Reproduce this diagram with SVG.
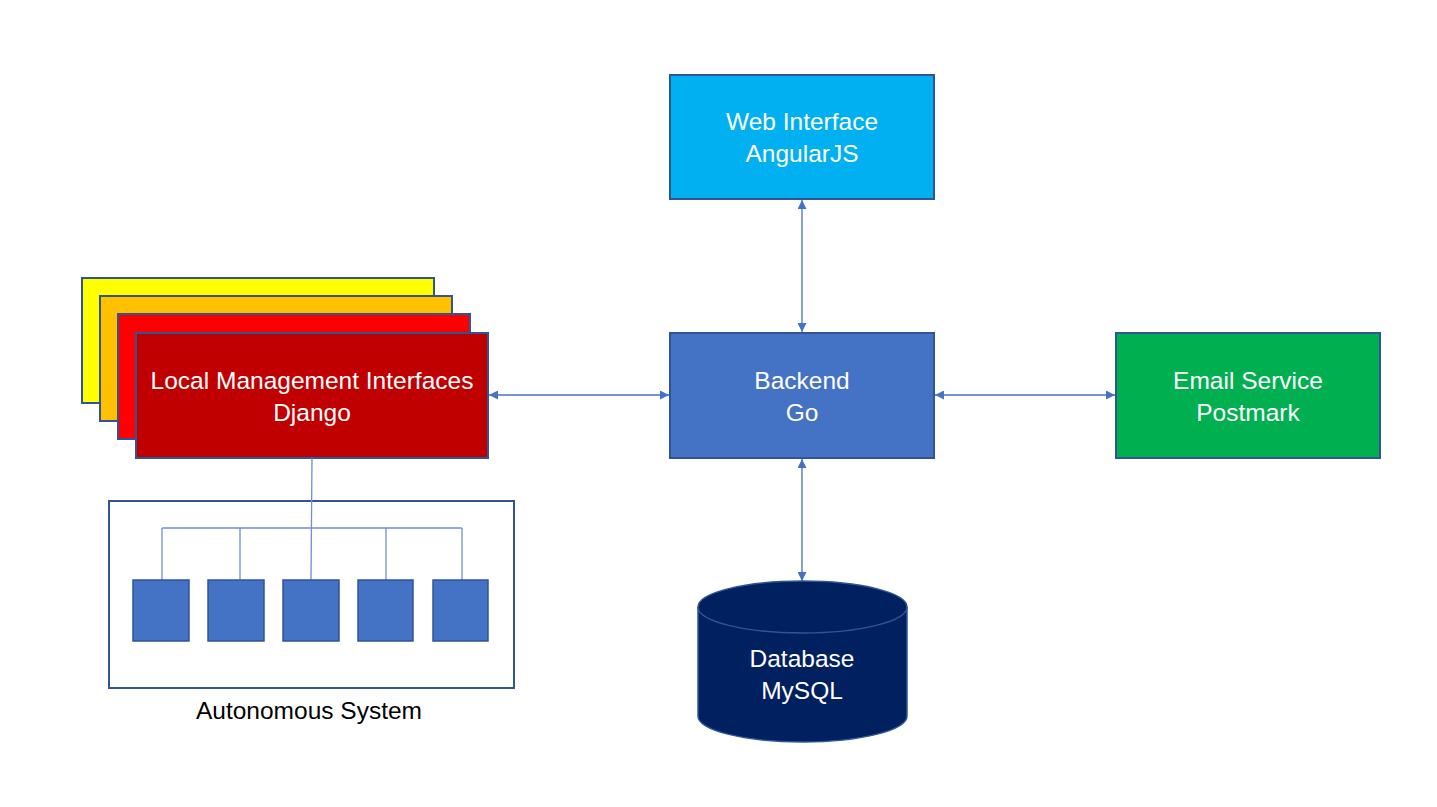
<svg xmlns="http://www.w3.org/2000/svg" width="1437" height="807" viewBox="0 0 1437 807">
<style>
.box{stroke:#2F5597;stroke-width:2}
.lbl{font-family:"Liberation Sans",Arial,sans-serif;font-size:24.5px;fill:#FFFFFF;text-anchor:middle}
.conn{stroke:#4472C4;stroke-width:1.3;fill:none}
.tree{stroke:#6F8FD0;stroke-width:1.3;fill:none}
.sq{fill:#4472C4;stroke:#2F5597;stroke-width:1.5}
</style>
<defs>
<marker id="arr" viewBox="0 0 10 10" refX="10" refY="5" markerWidth="10" markerHeight="9" markerUnits="userSpaceOnUse" orient="auto-start-reverse">
<path d="M0,0 L10,5 L0,10 Z" fill="#4472C4"/>
</marker>
</defs>
<rect width="1437" height="807" fill="#FFFFFF"/>

<g id="connectors">
<line class="conn" x1="802" y1="200" x2="802" y2="332" marker-start="url(#arr)" marker-end="url(#arr)"/>
<line class="conn" x1="802" y1="459" x2="802" y2="581" marker-start="url(#arr)" marker-end="url(#arr)"/>
<line class="conn" x1="489" y1="395" x2="669" y2="395" marker-start="url(#arr)" marker-end="url(#arr)"/>
<line class="conn" x1="935" y1="395" x2="1115" y2="395" marker-start="url(#arr)" marker-end="url(#arr)"/>
</g>

<g id="web-interface">
<rect class="box" x="670" y="75" width="264" height="124" fill="#00B0F0"/>
<text class="lbl" x="802" y="130">Web Interface</text>
<text class="lbl" x="802" y="162">AngularJS</text>
</g>

<g id="backend">
<rect class="box" x="670" y="333" width="264" height="125" fill="#4472C4"/>
<text class="lbl" x="802" y="389">Backend</text>
<text class="lbl" x="802" y="421">Go</text>
</g>

<g id="email-service">
<rect class="box" x="1116" y="333" width="264" height="125" fill="#00B050"/>
<text class="lbl" x="1248" y="389">Email Service</text>
<text class="lbl" x="1248" y="421">Postmark</text>
</g>

<g id="local-management">
<rect class="box" x="82" y="278" width="352" height="125" fill="#FFFF00"/>
<rect class="box" x="100" y="296" width="352" height="125" fill="#FFC000"/>
<rect class="box" x="118" y="314" width="352" height="125" fill="#FF0000"/>
<rect class="box" x="136" y="333" width="352" height="125" fill="#C00000"/>
<text class="lbl" x="312" y="389">Local Management Interfaces</text>
<text class="lbl" x="312" y="421">Django</text>
</g>

<g id="autonomous-system">
<rect x="109" y="501" width="405" height="187" fill="#FFFFFF" stroke="#2F5597" stroke-width="2"/>
<g class="tree">
<line x1="312" y1="458" x2="311" y2="580"/>
<line x1="162" y1="528" x2="462" y2="528"/>
<line x1="162" y1="528" x2="162" y2="580"/>
<line x1="240" y1="528" x2="240" y2="580"/>
<line x1="386" y1="528" x2="386" y2="580"/>
<line x1="462" y1="528" x2="462" y2="580"/>
</g>
<rect class="sq" x="133" y="580" width="56" height="61"/>
<rect class="sq" x="208" y="580" width="56" height="61"/>
<rect class="sq" x="283" y="580" width="56" height="61"/>
<rect class="sq" x="358" y="580" width="55" height="61"/>
<rect class="sq" x="433" y="580" width="55" height="61"/>
<text x="309" y="719" font-family="'Liberation Sans',Arial,sans-serif" font-size="24.5" fill="#000000" text-anchor="middle">Autonomous System</text>
</g>

<g id="database">
<path d="M698,607 L698,716 A104.5,26 0 0 0 907,716 L907,607 A104.5,26 0 0 0 698,607 Z" fill="#002060" stroke="#2F5597" stroke-width="1.5"/>
<path d="M698,607 A104.5,26 0 0 0 907,607" fill="none" stroke="#2F5597" stroke-width="1.5"/>
<text class="lbl" x="802" y="667">Database</text>
<text class="lbl" x="802" y="699">MySQL</text>
</g>
</svg>
